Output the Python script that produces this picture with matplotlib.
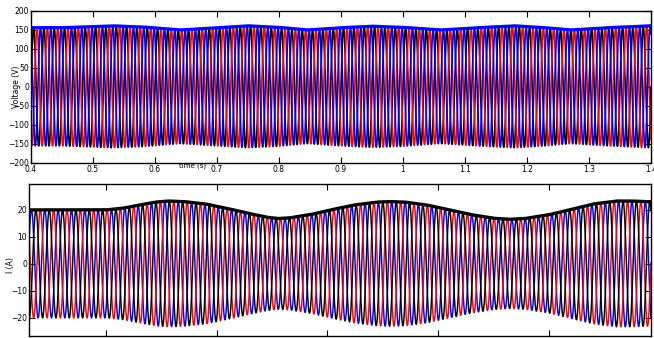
import numpy as np
import matplotlib
matplotlib.use("Agg")
import matplotlib.pyplot as plt

# ---------------- data ----------------
# Top panel: three-phase voltage, peak-amplitude envelope (time s, volts)
v_env_t = [0.40, 0.45, 0.50, 0.53, 0.58, 0.64, 0.70, 0.75, 0.80, 0.845,
           0.90, 0.95, 1.00, 1.06, 1.12, 1.18, 1.23, 1.27, 1.33, 1.40]
v_env_a = [155, 155, 158, 160, 157, 149, 155, 160, 156, 149,
           155, 159, 156, 149, 155, 160, 155, 149, 155, 160]
v_freq = 60.0
v_xticks = [0.4, 0.5, 0.6, 0.7, 0.8, 0.9, 1.0, 1.1, 1.2, 1.3, 1.4]
v_xticklabels = ["0.4", "0.5", "0.6", "0.7", "0.8", "0.9", "1", "1.1", "1.2", "1.3", "1.4"]
v_yticks = [-200, -150, -100, -50, 0, 50, 100, 150, 200]

# Bottom panel: three-phase current, peak-amplitude envelope (time s, amps)
i_env_t = [0.4305, 0.50, 0.515, 0.53, 0.545, 0.556, 0.57, 0.59, 0.61, 0.63,
           0.645, 0.655, 0.665, 0.685, 0.705, 0.725, 0.745, 0.756, 0.77, 0.79,
           0.81, 0.83, 0.85, 0.864, 0.878, 0.90, 0.92, 0.94, 0.961, 0.975, 0.992]
i_env_a = [20.0, 20.0, 20.6, 21.8, 22.9, 23.3, 23.1, 22.2, 20.5, 18.6,
           17.3, 16.8, 17.0, 18.3, 20.2, 21.9, 22.9, 23.1, 22.9, 21.8,
           20.0, 18.2, 16.9, 16.5, 16.8, 18.2, 20.2, 22.2, 23.3, 23.3, 23.0]
i_freq = 83.0
i_xticks = [0.5, 0.6, 0.7, 0.8, 0.9]
i_yticks = [-20, -10, 0, 10, 20]

# ---------------- figure ----------------
fig = plt.figure(figsize=(6.54, 3.38), dpi=100)
ax1 = fig.add_axes([0.0474, 0.5178, 0.948, 0.4497])
ax2 = fig.add_axes([0.0443, 0.0059, 0.951, 0.4497])

# top panel
t1 = np.linspace(v_env_t[0], v_env_t[-1], 30000)
a1 = np.interp(t1, v_env_t, v_env_a)
for c, ph in zip(["black", "red", "blue"], [0.0, -2 * np.pi / 3, 2 * np.pi / 3]):
    ax1.plot(t1, a1 * np.sin(2 * np.pi * v_freq * t1 + ph), color=c, lw=1.2)
ax1.plot(t1, a1 + 1.0, color="blue", lw=2.3)
ax1.set_xlim(0.4, 1.4)
ax1.set_ylim(-200, 200)
ax1.set_xticks(v_xticks)
ax1.set_xticklabels(v_xticklabels)
ax1.set_yticks(v_yticks)
ax1.set_ylabel("Voltage (V)", fontsize=5.5, labelpad=0)
ax1.yaxis.set_label_coords(-0.016, 0.5)
ax1.text(0.66, -200, "time (s)", fontsize=5, ha="center", va="top",
         transform=ax1.transData)

# bottom panel
t2 = np.linspace(i_env_t[0], i_env_t[-1], 20000)
a2 = np.interp(t2, i_env_t, i_env_a)
for c, ph in zip(["blue", "red", "black"], [2 * np.pi / 3, -2 * np.pi / 3, 0.0]):
    ax2.plot(t2, a2 * np.sin(2 * np.pi * i_freq * t2 + ph), color=c, lw=1.05)
ax2.plot(t2, a2, color="black", lw=2.4)
ax2.set_xlim(i_env_t[0], i_env_t[-1])
ax2.set_ylim(-26.7, 29.6)
ax2.set_xticks(i_xticks)
ax2.set_xticklabels([])
ax2.set_yticks(i_yticks)
ax2.set_ylabel("I (A)", fontsize=5.5, labelpad=0)
ax2.yaxis.set_label_coords(-0.023, 0.47)

for ax in (ax1, ax2):
    ax.tick_params(direction="in", length=4, width=0.8, labelsize=5.5,
                   top=True, right=True, pad=1.5)
    for s in ax.spines.values():
        s.set_linewidth(1.0)

fig.savefig("out.png", dpi=100)
